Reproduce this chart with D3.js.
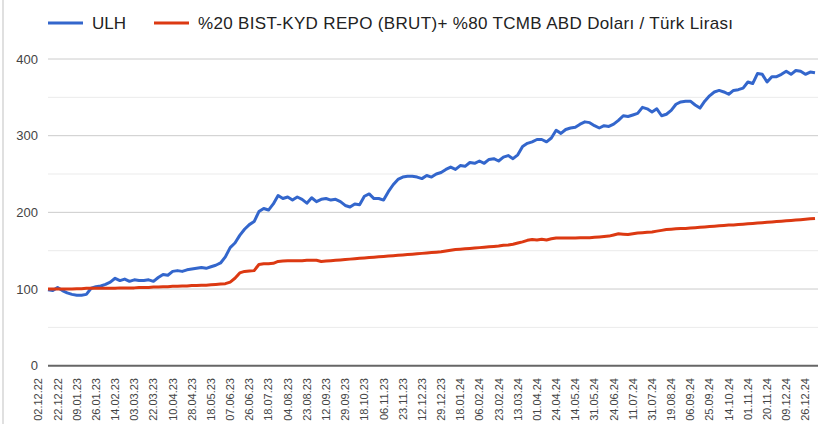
<!DOCTYPE html>
<html>
<head>
<meta charset="utf-8">
<script src="https://cdnjs.cloudflare.com/ajax/libs/d3/7.8.5/d3.min.js"></script>
<style>
  body { margin: 0; background: #fff; }
  svg { display: block; font-family: Arial, "Liberation Sans", sans-serif; }
</style>
</head>
<body>
<div id="chart"></div>
<script>
const width = 818, height = 424;

// tick labels, one every 4 points
const dateLabels = ["02.12.22", "22.12.22", "09.01.23", "26.01.23", "14.02.23", "03.03.23", "22.03.23",
    "10.04.23", "28.04.23", "18.05.23", "07.06.23", "26.06.23", "18.07.23", "04.08.23", "23.08.23",
    "12.09.23", "29.09.23", "18.10.23", "06.11.23", "23.11.23", "12.12.23", "29.12.23", "18.01.24",
    "06.02.24", "23.02.24", "13.03.24", "01.04.24", "24.04.24", "14.05.24", "31.05.24", "24.06.24",
    "11.07.24", "31.07.24", "19.08.24", "06.09.24", "25.09.24", "14.10.24", "01.11.24", "20.11.24",
    "09.12.24", "26.12.24"];

const seriesNames = ["ULH", "%20 BIST-KYD REPO (BRUT)+ %80 TCMB ABD Doları / Türk Lirası"];

const ulh = [99, 98, 102, 98, 95, 93, 92, 92, 93, 101,
    103, 104, 106, 109, 114, 111, 113, 110, 112, 111,
    111, 112, 110, 115, 119, 118, 123, 124, 123, 125,
    126, 127, 128, 127, 129, 131, 134, 142, 154, 160,
    170, 178, 184, 188, 201, 205, 203, 211, 222, 218,
    220, 216, 220, 217, 212, 219, 214, 217, 218, 216,
    217, 214, 209, 207, 211, 210, 221, 224, 218, 218,
    216, 227, 236, 243, 246, 247, 247, 246, 244, 248,
    246, 250, 252, 256, 259, 256, 261, 260, 265, 264,
    267, 264, 269, 270, 267, 272, 274, 270, 275, 286,
    290, 292, 295, 295, 292, 297, 307, 303, 308, 310,
    311, 315, 318, 317, 313, 310, 313, 312, 315, 320,
    326, 325, 327, 329, 337, 335, 331, 335, 326, 328,
    333, 341, 344, 345, 345, 340, 336, 345, 352, 357,
    359, 357, 354, 359, 360, 362, 370, 368, 381, 380,
    370, 377, 377, 380, 384, 380, 385, 384, 380, 383,
    382];

const repo = [100, 100, 100, 100, 100, 100, 100.5, 100.5, 101, 101,
    101, 101, 101, 101, 101, 101.5, 101.5, 101.5, 101.5, 102,
    102, 102, 102.5, 102.5, 103, 103, 103.5, 103.5, 104, 104,
    104.5, 104.5, 105, 105, 105.5, 106, 106.5, 107, 109, 114,
    121, 123, 123.5, 124, 132, 133, 133, 133.5, 136, 136.5,
    137, 137, 137, 137, 137.5, 137.5, 137.5, 136, 136.5, 137,
    137.5, 138, 138.5, 139, 139.5, 140, 140.5, 141, 141.5, 142,
    142.5, 143, 143.5, 144, 144.5, 145, 145.5, 146, 146.5, 147,
    147.5, 148, 148.5, 149.5, 150.5, 151.5, 152, 152.5, 153, 153.5,
    154, 154.5, 155, 155.5, 156, 157, 157.5, 158.5, 160, 161.5,
    163.5, 164.5, 164, 165, 164, 165.5, 166.5, 166.5, 166.5, 166.5,
    166.5, 167, 167, 167, 167.5, 168, 168.5, 169, 170.5, 172,
    171.5, 171, 172, 173, 173.5, 174, 174.5, 175.5, 176.5, 177.5,
    178, 178.5, 179, 179, 179.5, 180, 180.5, 181, 181.5, 182,
    182.5, 183, 183.5, 183.5, 184, 184.5, 185, 185.5, 186, 186.5,
    187, 187.5, 188, 188.5, 189, 189.5, 190, 190.5, 191, 191.5,
    192];

const yTicks = [0, 100, 200, 300, 400];
const yMinor = [50, 150, 250, 350];
const colors = ["#3366cc", "#dc3912"];

const svg = d3.select("#chart")
    .append("svg")
    .attr("width", width)
    .attr("height", height);

// left border
svg.append("line")
    .attr("x1", 3).attr("x2", 3)
    .attr("y1", 0).attr("y2", height)
    .attr("stroke", "#e0e0e0")
    .attr("stroke-width", 2);

const x = d3.scaleLinear()
    .domain([0, ulh.length - 1])
    .range([48, 815]);

const y = d3.scaleLinear()
    .domain([0, 400])
    .range([365.7, 59]);

// gridlines
svg.append("g")
    .selectAll("line")
    .data(yMinor)
    .join("line")
    .attr("x1", 48).attr("x2", width)
    .attr("y1", d => y(d)).attr("y2", d => y(d))
    .attr("stroke", "#ebebeb")
    .attr("stroke-width", 1);

svg.append("g")
    .selectAll("line")
    .data(yTicks.filter(d => d > 0))
    .join("line")
    .attr("x1", 48).attr("x2", width)
    .attr("y1", d => y(d)).attr("y2", d => y(d))
    .attr("stroke", "#cccccc")
    .attr("stroke-width", 1);

// y labels
svg.append("g")
    .selectAll("text")
    .data(yTicks)
    .join("text")
    .attr("x", 38)
    .attr("y", d => y(d))
    .attr("dy", "0.35em")
    .attr("text-anchor", "end")
    .attr("font-size", 13)
    .attr("fill", "#444")
    .text(d => d);

// x labels (vertical)
svg.append("g")
    .selectAll("text")
    .data(dateLabels)
    .join("text")
    .attr("transform", (d, i) => "translate(" + (x(i * 4) - 9.5) + ",378) rotate(-90)")
    .attr("dy", "0.35em")
    .attr("text-anchor", "end")
    .attr("font-size", 11)
    .attr("fill", "#444")
    .text(d => d);

// lines
const line = d3.line()
    .x((d, i) => x(i))
    .y(d => y(d));

[ulh, repo].forEach(function(s, k) {
    svg.append("path")
        .datum(s)
        .attr("d", line)
        .attr("fill", "none")
        .attr("stroke", colors[k])
        .attr("stroke-width", 3)
        .attr("stroke-linejoin", "round");
});

// baseline
svg.append("line")
    .attr("x1", 48).attr("x2", width)
    .attr("y1", y(0)).attr("y2", y(0))
    .attr("stroke", "#666")
    .attr("stroke-width", 2);

// legend
const legend = svg.append("g");
const legendX = [48, 154];
const legendLen = [34, 535];
seriesNames.forEach(function(name, k) {
    legend.append("line")
        .attr("x1", legendX[k]).attr("x2", legendX[k] + 35)
        .attr("y1", 23).attr("y2", 23)
        .attr("stroke", colors[k])
        .attr("stroke-width", 3);
    legend.append("text")
        .attr("x", legendX[k] + 44)
        .attr("y", 23)
        .attr("dy", "0.35em")
        .attr("font-size", 17)
        .attr("fill", "#222")
        .attr("textLength", legendLen[k])
        .attr("lengthAdjust", "spacing")
        .text(name);
});
</script>
</body>
</html>
